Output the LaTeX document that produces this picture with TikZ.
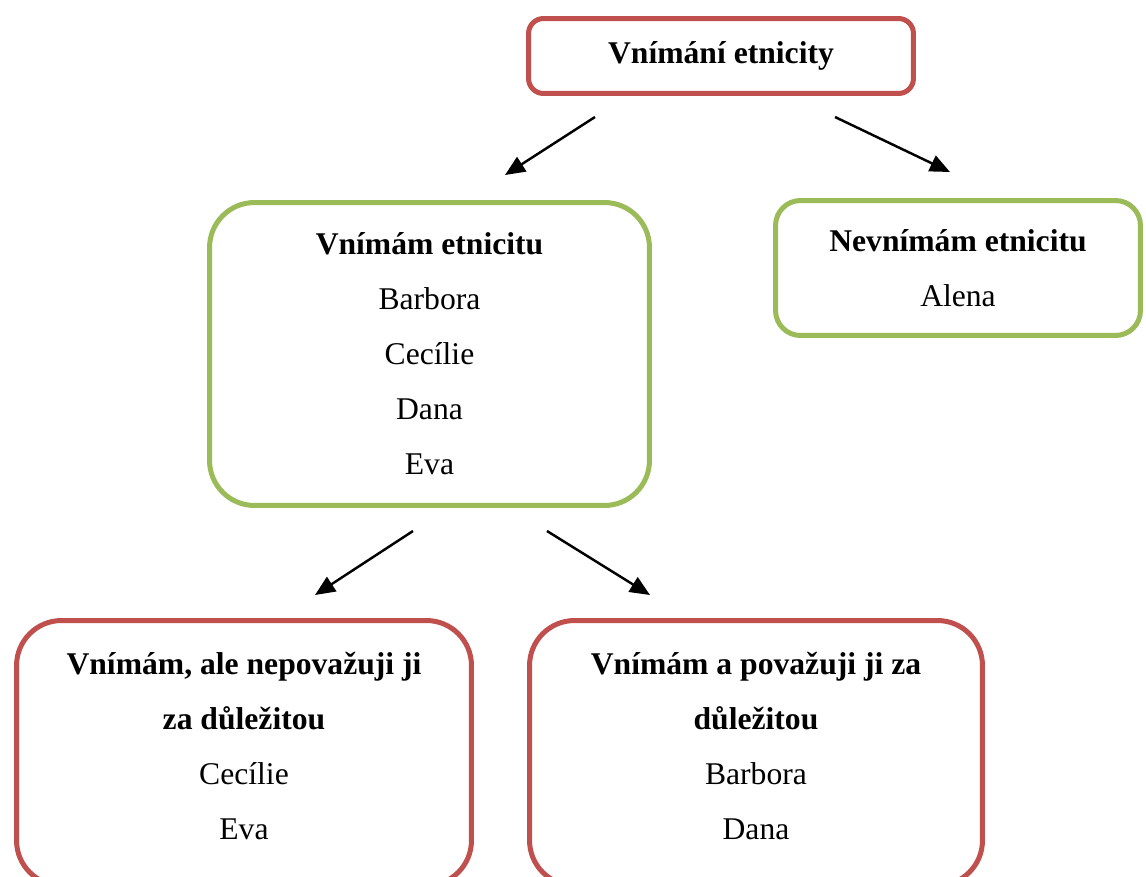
\documentclass[tikz,border=0pt]{standalone}
\usepackage{fontspec}
\setmainfont{Liberation Serif}
\usetikzlibrary{arrows.meta, positioning, calc}
\definecolor{boxred}{HTML}{C0504D}
\definecolor{boxgreen}{HTML}{9BBB59}

\begin{document}
\begin{tikzpicture}[
    x=0.02cm, y=-0.02cm,
    font=\fontsize{18}{31.3}\selectfont,
    >={Triangle[length=0.4cm,width=0.34cm]},
    every node/.style={align=center},
    redbox/.style={draw=boxred, line width=2.85pt, fill=white},
    greenbox/.style={draw=boxgreen, line width=2.85pt, fill=white},
    arr/.style={->, line width=1.4pt},
]
\useasboundingbox (0,0) rectangle (1146,876);
\clip (0,0) rectangle (1146,876);

% ================= TOP =================
\node[redbox, rounded corners=0.3cm, minimum width=7.7cm, minimum height=1.5cm] (top) at (721,56) {\textbf{Vnímání etnicity}};

% ================= SECOND ROW =================
\node[greenbox, rounded corners=0.9cm, minimum width=8.8cm, minimum height=6.06cm] (yes) at (429.5,354) {\textbf{Vnímám etnicitu}\\Barbora\\Cecílie\\Dana\\Eva};
\node[greenbox, rounded corners=0.5cm, minimum width=7.3cm, minimum height=2.7cm] (no) at (958,268) {\textbf{Nevnímám etnicitu}\\Alena};

% ================= THIRD ROW =================
\node[redbox, rounded corners=0.9cm, minimum width=9.1cm, minimum height=5.3cm, text depth=0.28cm] (notimp) at (244,753) {\textbf{Vnímám, ale nepovažuji ji}\\\textbf{za důležitou}\\Cecílie\\Eva};
\node[redbox, rounded corners=0.9cm, minimum width=9.06cm, minimum height=5.3cm, text depth=0.28cm] (imp) at (756,753) {\textbf{Vnímám a považuji ji za}\\\textbf{důležitou}\\Barbora\\Dana};

% ================= ARROWS =================
\coordinate (t-l) at (595,117);
\coordinate (t-r) at (835,117);
\coordinate (yes-in) at (505,175);
\coordinate (no-in) at (950,172);
\coordinate (y-l) at (413,531);
\coordinate (y-r) at (547,531);
\coordinate (notimp-in) at (315,595);
\coordinate (imp-in) at (650,595);

\draw[arr] (t-l) -- (yes-in);
\draw[arr] (t-r) -- (no-in);
\draw[arr] (y-l) -- (notimp-in);
\draw[arr] (y-r) -- (imp-in);

\end{tikzpicture}
\end{document}
